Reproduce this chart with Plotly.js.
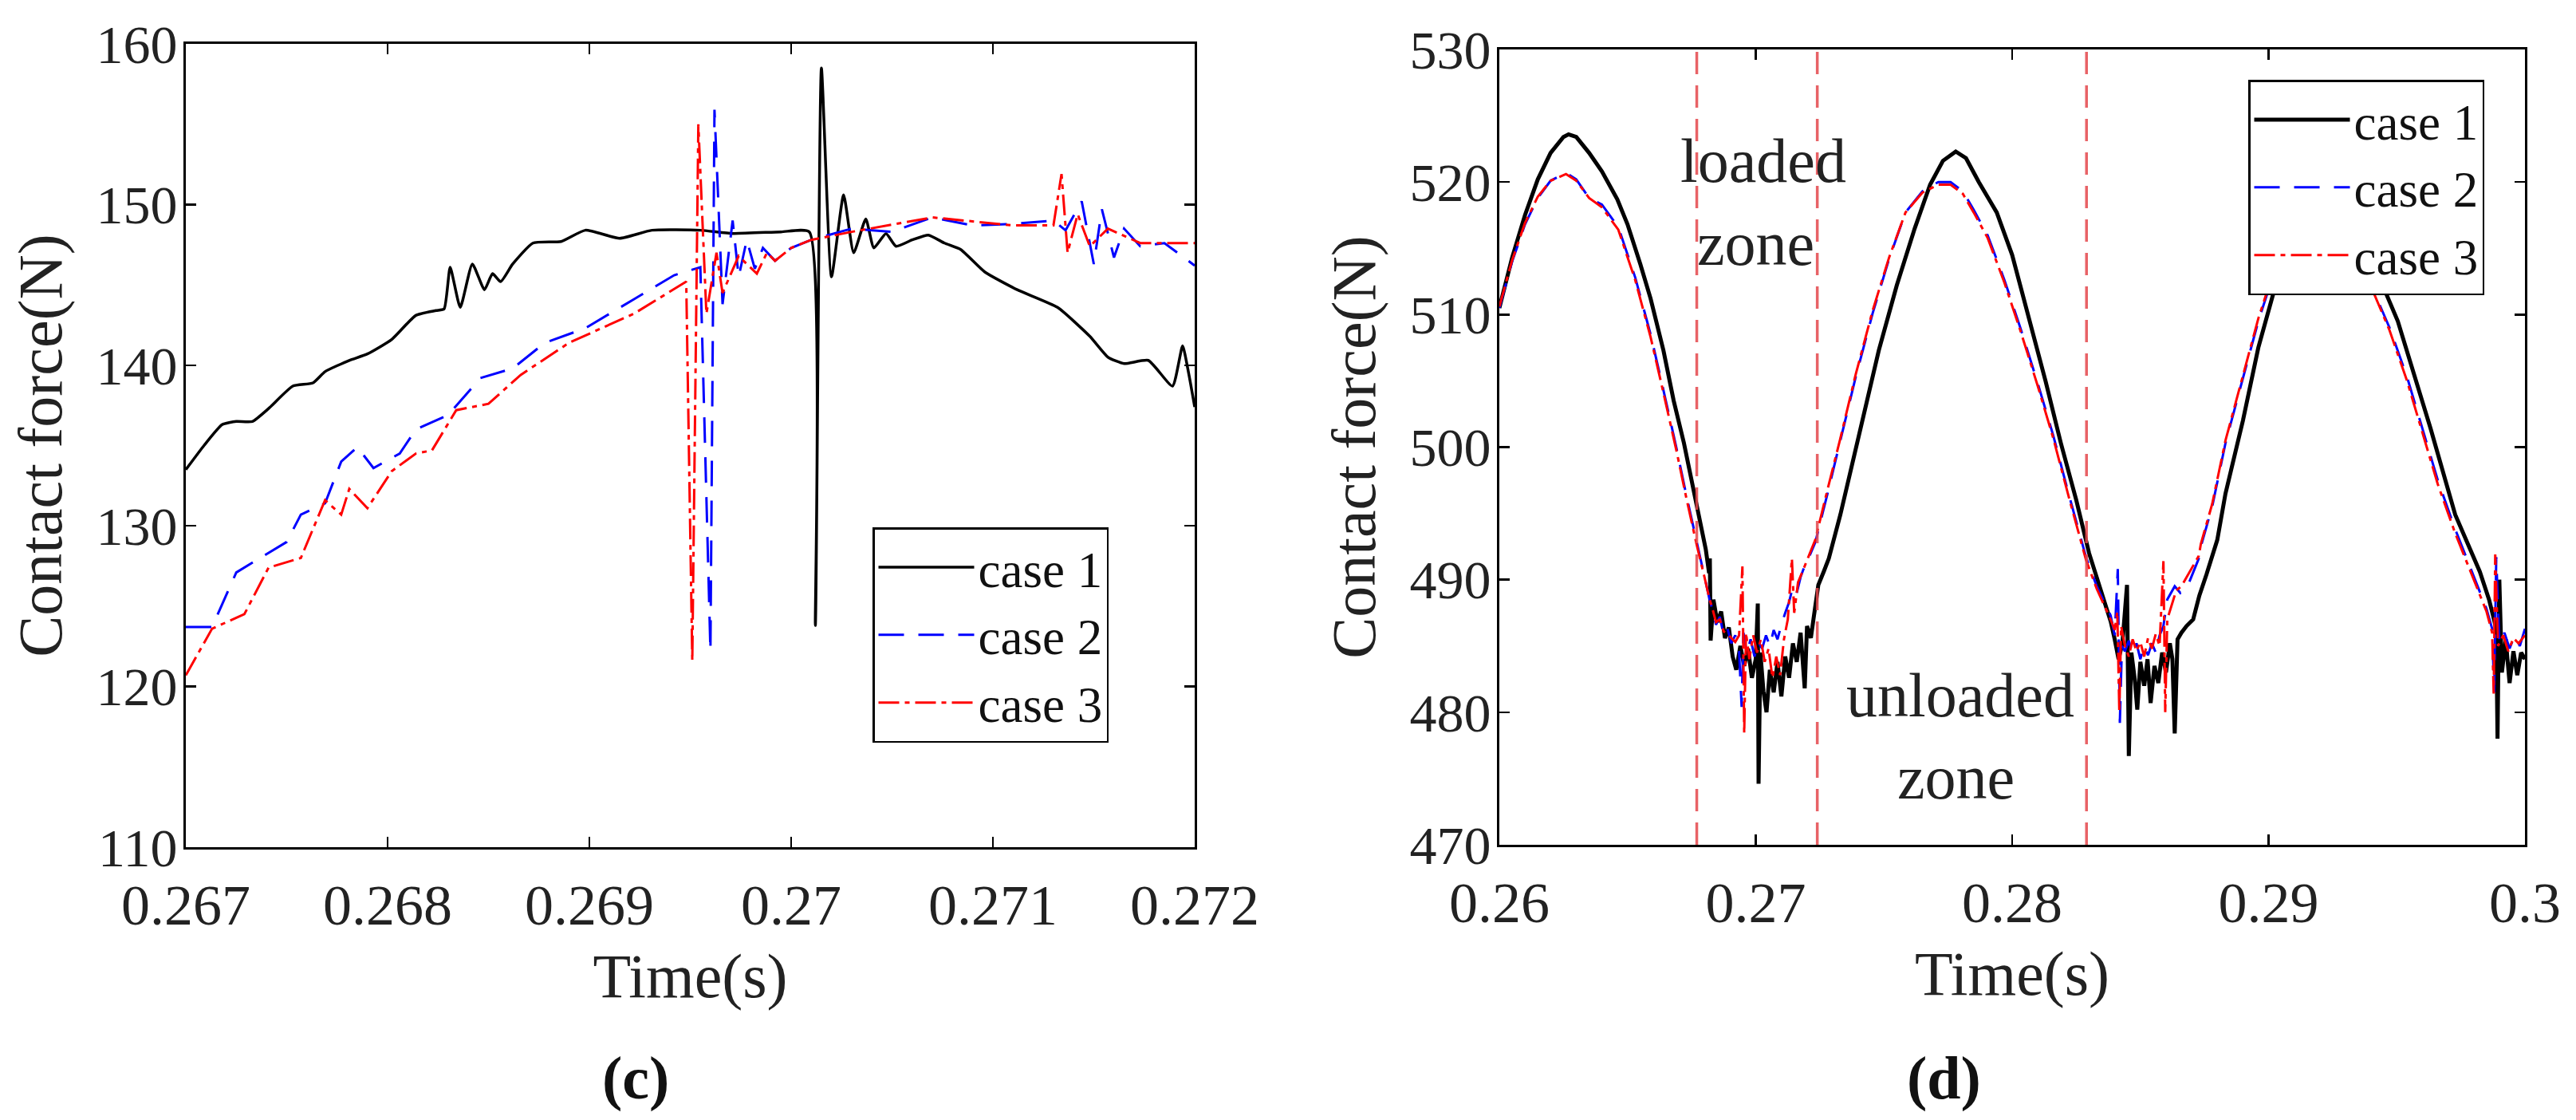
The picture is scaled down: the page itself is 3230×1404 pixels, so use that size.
<!DOCTYPE html>
<html>
<head>
<meta charset="utf-8">
<script src="https://cdn.plot.ly/plotly-3.0.1.min.js"></script>
<style>html,body{margin:0;padding:0;background:#fff;}#chart{width:3230px;height:1404px;}</style>
</head>
<body>
<div id="chart"></div>
<script>
// ---------- Panel (c) data ----------
const c1L_t = [0.26700,0.26709,0.26718,0.26725,0.26733,0.26741,0.26753,0.26763,0.26769,0.26781,0.26790,0.26802,0.26814,0.26824,0.26828,0.26831,0.26836,0.26842,0.26848,0.26852,0.26856,0.26862,0.26872,0.26886,0.26898,0.26915,0.26931,0.26955,0.26971,0.26995,0.27009,0.27012,0.27015,0.27020,0.27026,0.27031,0.27037,0.27041,0.27047,0.27052,0.27060,0.27068,0.27076,0.27084,0.27096,0.27112,0.27132,0.27148,0.27157,0.27165,0.27177,0.27189,0.27194,0.27197,0.27200];
const c1L_f = [133.5,135.0,136.3,136.5,136.5,137.3,138.7,138.9,139.6,140.3,140.7,141.6,143.1,143.4,143.5,146.1,143.6,146.3,144.7,145.7,145.2,146.3,147.6,147.7,148.4,147.9,148.4,148.4,148.2,148.3,148.3,123.8,158.5,145.5,150.6,147.0,149.1,147.3,148.2,147.4,147.8,148.1,147.6,147.2,145.8,144.7,143.6,141.8,140.5,140.1,140.3,138.7,141.2,139.5,137.4];

const c2L_t = [0.26700,0.26713,0.26725,0.26741,0.26750,0.26757,0.26769,0.26777,0.26785,0.26793,0.26806,0.26814,0.26830,0.26846,0.26862,0.26878,0.26898,0.26922,0.26942,0.26955,0.26960,0.26962,0.26966,0.26971,0.26974,0.26978,0.26982,0.26986,0.26992,0.27000,0.27010,0.27030,0.27050,0.27070,0.27090,0.27110,0.27130,0.27136,0.27144,0.27150,0.27154,0.27160,0.27165,0.27173,0.27185,0.27200];
const c2L_f = [123.7,123.7,127.1,128.3,129.0,130.7,131.4,134.0,134.9,133.6,134.5,136.0,136.9,139.2,139.8,141.4,142.3,144.1,145.6,146.1,122.2,155.9,143.8,149.0,145.5,147.8,146.0,147.3,146.5,147.3,147.8,148.5,148.3,149.2,148.7,148.8,149.0,148.4,150.2,146.3,149.7,146.7,148.5,147.4,147.6,146.2];

const c3L_t = [0.26700,0.26713,0.26729,0.26741,0.26757,0.26769,0.26777,0.26781,0.26790,0.26802,0.26814,0.26822,0.26834,0.26850,0.26866,0.26890,0.26922,0.26948,0.26951,0.26954,0.26958,0.26963,0.26966,0.26974,0.26978,0.26983,0.26988,0.26992,0.27000,0.27010,0.27030,0.27070,0.27110,0.27130,0.27134,0.27137,0.27142,0.27148,0.27157,0.27173,0.27200];
const c3L_f = [120.7,123.6,124.5,127.4,128.0,131.6,130.7,132.3,131.1,133.4,134.5,134.7,137.2,137.6,139.4,141.4,143.2,145.2,121.6,155.0,143.2,147.0,144.5,146.8,146.3,145.7,147.0,146.5,147.3,147.8,148.3,149.2,148.7,148.7,151.9,147.0,149.4,147.4,148.5,147.6,147.6];

// ---------- Panel (d) data ----------
const c1R_t = [0.2600,0.2605,0.2610,0.2615,0.2620,0.2625,0.2627,0.2630,0.2635,0.2640,0.2646,0.2650,0.2655,0.2659,0.2664,0.2668,0.2672,0.2675,0.2678,0.26805,0.26818,0.26821,0.26824,0.26835,0.26850,0.26865,0.26880,0.26895,0.26910,0.26924,0.26940,0.26955,0.26970,0.26985,0.27000,0.27008,0.27011,0.27018,0.27030,0.27042,0.27055,0.27070,0.27085,0.27100,0.27115,0.27130,0.27145,0.27160,0.27175,0.27191,0.27200,0.27215,0.27225,0.27244,0.27265,0.27285,0.2733,0.2742,0.2748,0.2755,0.2762,0.2768,0.2773,0.2778,0.2782,0.2787,0.2794,0.2800,0.2806,0.2813,0.2819,0.2825,0.2830,0.2835,0.28385,0.28400,0.28415,0.28430,0.28448,0.28455,0.28465,0.28478,0.28488,0.28500,0.28515,0.28528,0.28540,0.28555,0.28570,0.28585,0.28600,0.28615,0.28625,0.28634,0.28645,0.28660,0.28680,0.28706,0.28730,0.28758,0.28800,0.28832,0.2890,0.2896,0.29056,0.2912,0.2918,0.2923,0.2928,0.2934,0.29408,0.29504,0.29632,0.29728,0.29824,0.29860,0.29888,0.29893,0.29900,0.29910,0.29925,0.29940,0.29955,0.29970,0.29985,0.3000];
const c1R_f = [510.5,514.3,517.5,520.2,522.2,523.4,523.6,523.4,522.2,520.8,518.7,516.8,513.8,511.2,507.3,503.5,500.3,497.5,494.8,492.3,490.5,491.6,485.4,488.5,486.8,487.6,485.6,486.4,484.2,483.2,485.0,483.5,484.8,482.6,484.0,488.2,474.6,484.5,481.6,480.0,483.2,481.5,483.8,481.2,484.2,482.6,485.2,483.8,486.0,481.8,486.5,485.6,487.0,489.6,490.6,491.6,494.9,502.5,507.3,512.2,516.5,519.8,521.6,522.3,521.8,520.0,517.7,514.5,510.1,505.0,500.3,496.0,492.0,488.8,486.8,485.5,484.0,485.2,489.6,476.7,484.5,482.5,480.2,483.8,482.0,484.0,480.7,483.5,482.2,484.5,483.0,485.2,484.0,478.4,485.5,486.0,486.5,487.0,488.8,490.4,493.0,496.5,502.0,507.5,514.2,518.2,520.6,521.3,520.3,517.0,513.9,509.5,501.4,494.9,490.6,488.5,486.3,478.0,490.0,483.0,485.5,482.2,484.6,482.8,484.5,484.0];

const c2R_t = [0.2600,0.2605,0.2610,0.2615,0.2620,0.2626,0.2630,0.2635,0.2640,0.26464,0.2653,0.2659,0.2664,0.2669,0.2673,0.2677,0.2680,0.2682,0.26830,0.26845,0.26860,0.26875,0.26890,0.26905,0.26920,0.26935,0.26945,0.26952,0.26965,0.26980,0.26995,0.27010,0.27025,0.27040,0.27055,0.27070,0.27085,0.27100,0.27115,0.27130,0.27145,0.27160,0.27175,0.27190,0.27210,0.27232,0.2728,0.27328,0.2739,0.27456,0.2752,0.27584,0.2765,0.27712,0.2776,0.27808,0.2785,0.27904,0.2797,0.28032,0.2810,0.2816,0.2822,0.28288,0.2833,0.28384,0.28400,0.28412,0.28420,0.28428,0.28440,0.28455,0.28470,0.28485,0.28500,0.28515,0.28530,0.28545,0.28560,0.28575,0.28590,0.28605,0.28634,0.28656,0.28684,0.28728,0.28736,0.2878,0.28832,0.2890,0.2896,0.29024,0.2908,0.2914,0.2920,0.2926,0.2932,0.29376,0.29472,0.2954,0.2960,0.2966,0.29728,0.29780,0.29824,0.29850,0.29872,0.29880,0.29888,0.29900,0.29920,0.29940,0.29960,0.29980,0.3000];
const c2R_f = [510.5,514.0,516.8,518.8,520.1,520.7,520.2,518.8,518.3,516.6,512.8,508.5,504.3,500.0,496.3,492.8,490.3,488.5,487.8,486.6,487.2,485.8,486.3,485.2,485.8,484.6,480.4,486.0,484.5,485.5,484.2,485.3,484.8,485.8,485.0,486.2,485.5,486.6,487.5,488.3,489.5,489.0,490.2,491.0,491.8,492.8,496.5,500.3,505.3,510.1,514.2,517.7,519.3,520.0,520.0,519.3,517.9,516.0,512.6,509.0,504.8,500.9,496.5,491.7,489.5,487.3,485.8,490.8,479.2,485.0,484.6,485.4,484.4,485.2,484.0,485.0,484.3,485.2,484.5,485.8,486.5,488.5,489.5,489.0,489.5,491.6,492.5,495.5,500.3,505.2,509.5,513.3,516.5,518.8,519.8,518.8,516.3,513.3,509.0,505.3,501.4,497.5,493.8,491.2,489.0,487.8,486.3,481.5,491.7,485.2,486.0,484.8,485.8,485.0,486.3];

const c3R_t = [0.2600,0.2605,0.2610,0.2615,0.2620,0.2626,0.2630,0.2635,0.2640,0.26464,0.2653,0.2659,0.2664,0.2669,0.2673,0.2677,0.2680,0.2682,0.26830,0.26845,0.26860,0.26875,0.26890,0.26905,0.26920,0.26935,0.26948,0.26955,0.26962,0.26975,0.26990,0.27005,0.27020,0.27035,0.27050,0.27065,0.27080,0.27095,0.27110,0.27125,0.27141,0.27150,0.27165,0.27180,0.27200,0.27232,0.2728,0.27328,0.2739,0.27456,0.2752,0.27584,0.2765,0.27712,0.2776,0.27808,0.2785,0.27904,0.2797,0.28032,0.2810,0.2816,0.2822,0.28288,0.2833,0.28384,0.28400,0.28410,0.28418,0.28425,0.28440,0.28455,0.28470,0.28485,0.28500,0.28515,0.28530,0.28545,0.28560,0.28575,0.28590,0.28597,0.28605,0.28620,0.28640,0.28660,0.28690,0.28728,0.28736,0.2878,0.28832,0.2890,0.2896,0.29024,0.2908,0.2914,0.2920,0.2926,0.2932,0.29376,0.29472,0.2954,0.2960,0.2966,0.29728,0.29780,0.29824,0.29850,0.29872,0.29878,0.29884,0.29895,0.29915,0.29935,0.29955,0.29975,0.3000];
const c3R_f = [510.6,514.1,516.9,518.9,520.1,520.6,520.1,518.8,518.1,516.4,512.6,508.3,504.1,499.8,496.1,492.6,490.2,488.5,487.9,486.8,487.0,486.1,485.9,485.6,485.3,485.8,491.0,478.4,486.0,484.0,485.8,484.5,485.5,483.8,484.8,482.6,484.2,482.8,485.5,487.0,491.6,487.5,489.8,490.5,491.5,493.0,496.8,500.5,505.5,510.3,514.3,517.7,519.2,519.8,519.8,519.1,517.7,515.8,512.4,508.8,504.6,500.7,496.3,491.5,489.3,487.0,486.2,487.6,480.0,486.5,485.0,484.2,485.5,484.6,485.3,484.2,485.6,484.8,485.9,485.0,491.4,480.0,487.0,488.0,489.2,489.5,490.5,491.8,492.7,495.7,500.5,505.4,509.7,513.5,516.6,518.9,519.9,518.9,516.2,513.2,508.8,505.0,501.1,497.2,493.5,491.0,488.8,487.6,486.0,481.4,491.9,485.0,485.8,484.6,485.6,485.2,485.8];

// ---------- labels & markers ----------
const caseNames = ['case 1', 'case 2', 'case 3'];
const xTicksL = [0.267, 0.268, 0.269, 0.270, 0.271, 0.272];
const xTickTextL = ['0.267', '0.268', '0.269', '0.27', '0.271', '0.272'];
const yTicksL = [110, 120, 130, 140, 150, 160];
const xTicksR = [0.26, 0.27, 0.28, 0.29, 0.30];
const xTickTextR = ['0.26', '0.27', '0.28', '0.29', '0.3'];
const yTicksR = [470, 480, 490, 500, 510, 520, 530];
const zoneBounds = [0.2677, 0.2724, 0.2829];
const zoneText = ['loaded', 'zone', 'unloaded', 'zone'];
const zoneTextT = [0.27031, 0.26999, 0.27799, 0.27782];
const zoneTextF = [521.6, 515.35, 481.3, 475.1];
const panelLabels = ['(c)', '(d)'];

const FONT = 'Liberation Serif, Times New Roman, serif';
const dash2 = '32px,18px';
const dash3 = '26px,7px,6px,7px';

const traces = [
  {x: c1L_t, y: c1L_f, name: caseNames[0], type: 'scatter', mode: 'lines', xaxis: 'x', yaxis: 'y', legend: 'legend',
   line: {color: '#000000', width: 3.5, shape: 'spline', smoothing: 0.5}},
  {x: c2L_t, y: c2L_f, name: caseNames[1], type: 'scatter', mode: 'lines', xaxis: 'x', yaxis: 'y', legend: 'legend',
   line: {color: '#0000ff', width: 3, dash: dash2}},
  {x: c3L_t, y: c3L_f, name: caseNames[2], type: 'scatter', mode: 'lines', xaxis: 'x', yaxis: 'y', legend: 'legend',
   line: {color: '#ff0000', width: 3, dash: dash3}},
  {x: c1R_t, y: c1R_f, name: caseNames[0], type: 'scatter', mode: 'lines', xaxis: 'x2', yaxis: 'y2', legend: 'legend2',
   line: {color: '#000000', width: 5}},
  {x: c2R_t, y: c2R_f, name: caseNames[1], type: 'scatter', mode: 'lines', xaxis: 'x2', yaxis: 'y2', legend: 'legend2',
   line: {color: '#0000ff', width: 3, dash: dash2}},
  {x: c3R_t, y: c3R_f, name: caseNames[2], type: 'scatter', mode: 'lines', xaxis: 'x2', yaxis: 'y2', legend: 'legend2',
   line: {color: '#ff0000', width: 3, dash: dash3}}
];

function axisBase(isY) {
  return {
    showline: true, linecolor: '#000', linewidth: 3, mirror: 'ticks',
    ticks: 'inside', ticklen: 13, tickwidth: 2.5, tickcolor: '#000',
    showgrid: false, zeroline: false, fixedrange: true,
    ticklabelstandoff: isY ? -6 : 8,
    tickfont: {family: FONT, size: isY ? 68 : 72, color: '#222'},
    title: {font: {family: FONT, size: 78, color: '#222'}}
  };
}

const xL = Object.assign(axisBase(false), {domain: [0.07214, 0.46378], range: [0.267, 0.272], tickmode: 'array', tickvals: xTicksL, ticktext: xTickTextL, anchor: 'y'});
xL.title.text = 'Time(s)'; xL.title.standoff = 22;
const yL = Object.assign(axisBase(true), {domain: [0.24359, 0.96083], range: [110, 160], tickmode: 'array', tickvals: yTicksL, anchor: 'x'});
yL.title.text = 'Contact force(N)'; yL.title.standoff = 18;
const xR = Object.assign(axisBase(false), {domain: [0.58204, 0.98019], range: [0.26, 0.30], tickmode: 'array', tickvals: xTicksR, ticktext: xTickTextR, anchor: 'y2'});
xR.title.text = 'Time(s)'; xR.title.standoff = 22;
const yR = Object.assign(axisBase(true), {domain: [0.24573, 0.95584], range: [470, 530], tickmode: 'array', tickvals: yTicksR, anchor: 'x2'});
yR.title.text = 'Contact force(N)'; yR.title.standoff = 18;

const shapes = zoneBounds.map(t => ({
  type: 'line', xref: 'x2', yref: 'y2 domain', x0: t, x1: t, y0: 0, y1: 1,
  line: {color: 'rgba(228,70,75,0.85)', width: 3.5, dash: '28px,14px'}, layer: 'above'
}));

const annotations = zoneText.map((s, i) => ({
  text: s, xref: 'x2', yref: 'y2', x: zoneTextT[i], y: zoneTextF[i], showarrow: false,
  xanchor: 'center', yanchor: 'middle', font: {family: FONT, size: 78, color: '#222'}
}));
annotations.push({text: '<b>' + panelLabels[0] + '</b>', xref: 'paper', yref: 'paper', x: 0.2466, y: 0.0375,
  showarrow: false, xanchor: 'center', yanchor: 'middle', font: {family: FONT, size: 76, color: '#111'}});
annotations.push({text: '<b>' + panelLabels[1] + '</b>', xref: 'paper', yref: 'paper', x: 0.7545, y: 0.0375,
  showarrow: false, xanchor: 'center', yanchor: 'middle', font: {family: FONT, size: 76, color: '#111'}});

const legendBase = {
  xanchor: 'left', yanchor: 'top', bgcolor: '#ffffff', bordercolor: '#000', borderwidth: 2.5,
  font: {family: FONT, size: 63, color: '#111'}, itemwidth: 120, tracegroupgap: 0, traceorder: 'normal'
};

const layout = {
  width: 3230, height: 1404, autosize: false,
  margin: {l: 0, r: 0, t: 0, b: 0, pad: 0},
  paper_bgcolor: '#ffffff', plot_bgcolor: '#ffffff',
  font: {family: FONT, color: '#222'},
  showlegend: true,
  xaxis: xL, yaxis: yL, xaxis2: xR, yaxis2: yR,
  legend: Object.assign({}, legendBase, {x: 0.3387, y: 0.5292}),
  legend2: Object.assign({}, legendBase, {x: 0.87276, y: 0.92877}),
  shapes: shapes,
  annotations: annotations
};

Plotly.newPlot('chart', traces, layout, {staticPlot: true, displayModeBar: false});
</script>
</body>
</html>
